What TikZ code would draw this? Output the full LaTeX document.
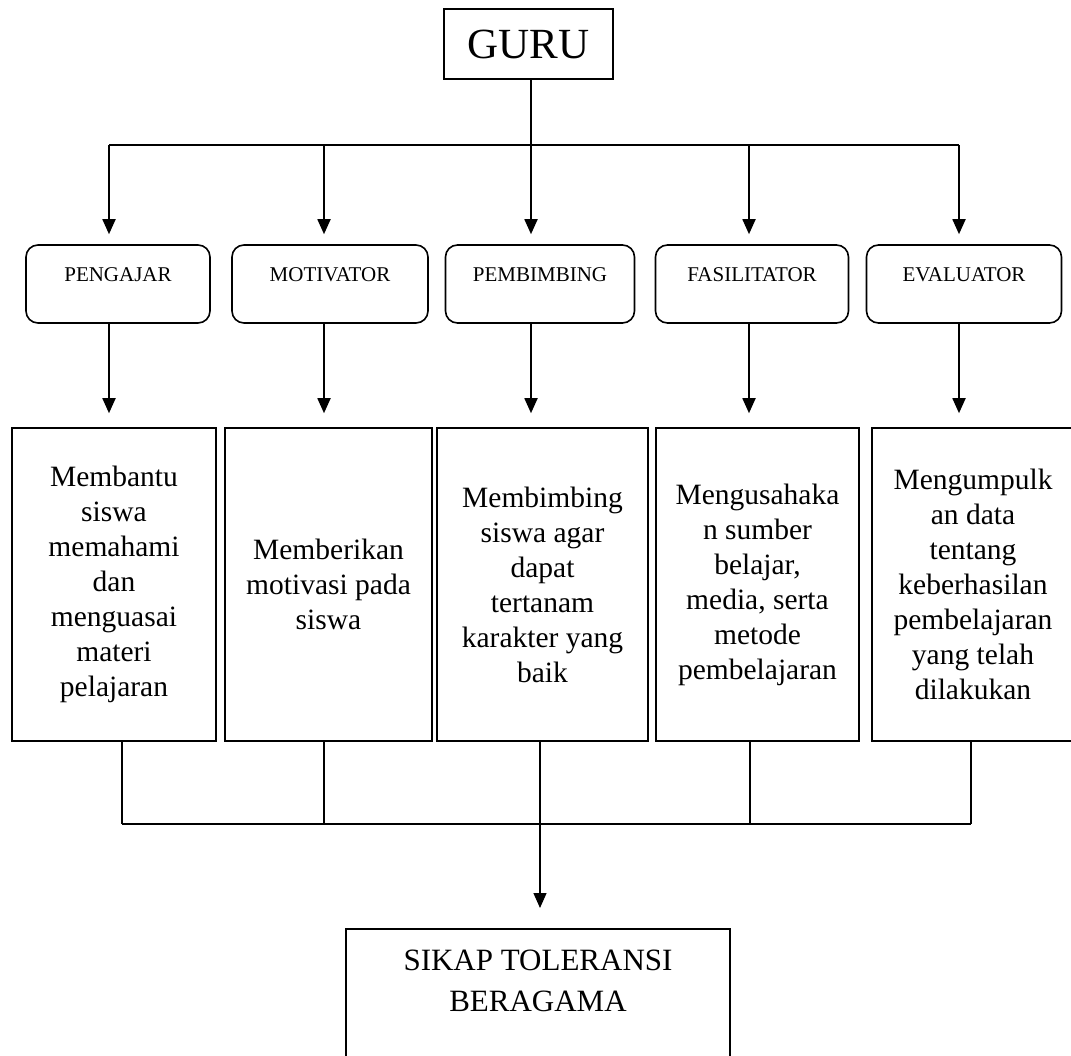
\documentclass[tikz,border=0pt]{standalone}
\usepackage{fontspec}
\setmainfont{Liberation Serif}
\usetikzlibrary{arrows.meta}

\begin{document}
\begin{tikzpicture}[x=1pt,y=-1pt]
      \tikzstyle{point} = [coordinate]
      \tikzstyle{box} = [rectangle, draw, line width=1.6pt, inner sep=0pt]
      \tikzstyle{role} = [box, rounded corners=12pt, minimum height=78pt,
        font=\fontsize{21}{25}\selectfont, text height=15pt, text depth=21pt]
      \tikzstyle{task} = [box, minimum height=313pt, align=center,
        font=\fontsize{29.5}{35}\selectfont]
      \tikzstyle{arr} = [line width=1.8pt, -{Triangle[length=15pt,width=13pt]}]
      \tikzstyle{link} = [line width=1.3pt]
      \useasboundingbox (0,0) rectangle (1071,1055);
      % top
      \node (guru) [box, minimum width=169pt, minimum height=70pt,
        font=\fontsize{43}{48}\selectfont] at (528.5,44) {GURU};
      % roles
      \node (pengajar) [role, minimum width=184pt] at (118,284) {PENGAJAR};
      \node (motivator) [role, minimum width=196pt] at (330,284) {MOTIVATOR};
      \node (pembimbing) [role, minimum width=189pt] at (540,284) {PEMBIMBING};
      \node (fasilitator) [role, minimum width=193pt] at (752,284) {FASILITATOR};
      \node (evaluator) [role, minimum width=195pt] at (964,284) {EVALUATOR};
      % tasks
      \node (bantu) [task, minimum width=204pt] at (114,584.5)
        {Membantu\\siswa\\memahami\\dan\\menguasai\\materi\\pelajaran};
      \node (motivasi) [task, minimum width=207pt] at (328.5,584.5)
        {Memberikan\\motivasi pada\\siswa};
      \node (bimbing) [task, minimum width=211pt] at (542.5,584.5)
        {Membimbing\\siswa agar\\dapat\\tertanam\\karakter yang\\baik};
      \node (usaha) [task, minimum width=203pt] at (757.5,584.5)
        {Mengusahaka\\n sumber\\belajar,\\media, serta\\metode\\pembelajaran};
      \node (kumpul) [task, minimum width=202pt] at (973,584.5)
        {Mengumpulk\\an data\\tentang\\keberhasilan\\pembelajaran\\yang telah\\dilakukan};
      % result
      \node (sikap) [box, anchor=north, minimum width=384pt, minimum height=150pt,
        align=center, font=\fontsize{31}{41}\selectfont,
        text height=61pt, text depth=45pt] at (538,928)
        {SIKAP TOLERANSI\\BERAGAMA};
      % junctions
      \coordinate (j1) at (109,145);
      \coordinate (j2) at (324,145);
      \coordinate (j3) at (531,145);
      \coordinate (j4) at (749,145);
      \coordinate (j5) at (959,145);
      \coordinate (k1) at (122,824);
      \coordinate (k2) at (324,824);
      \coordinate (k3) at (540,824);
      \coordinate (k4) at (750,824);
      \coordinate (k5) at (971,824);
      \draw [line width=1.8pt] (guru.south -| j3) -- (j3);
      \draw [line width=1.8pt] (j1) -- (j5);
      \draw [arr, shorten >=10pt] (j1) -- (j1 |- pengajar.north);
      \draw [arr, shorten >=10pt] (j2) -- (j2 |- motivator.north);
      \draw [arr, shorten >=10pt] (j3) -- (j3 |- pembimbing.north);
      \draw [arr, shorten >=10pt] (j4) -- (j4 |- fasilitator.north);
      \draw [arr, shorten >=10pt] (j5) -- (j5 |- evaluator.north);
      \draw [arr, shorten >=14pt] (j1 |- pengajar.south) -- (j1 |- bantu.north);
      \draw [arr, shorten >=14pt] (j2 |- motivator.south) -- (j2 |- motivasi.north);
      \draw [arr, shorten >=14pt] (j3 |- pembimbing.south) -- (j3 |- bimbing.north);
      \draw [arr, shorten >=14pt] (j4 |- fasilitator.south) -- (j4 |- usaha.north);
      \draw [arr, shorten >=14pt] (j5 |- evaluator.south) -- (j5 |- kumpul.north);
      \draw [link] (k1 |- bantu.south) -- (k1);
      \draw [link] (k2 |- motivasi.south) -- (k2);
      \draw [link] (k3 |- bimbing.south) -- (k3);
      \draw [link] (k4 |- usaha.south) -- (k4);
      \draw [link] (k5 |- kumpul.south) -- (k5);
      \draw [link, line width=1.8pt] (k1) -- (k5);
      \draw [arr, line width=1.3pt, shorten >=20pt] (k3) -- (sikap.north -| k3);
\end{tikzpicture}
\end{document}
